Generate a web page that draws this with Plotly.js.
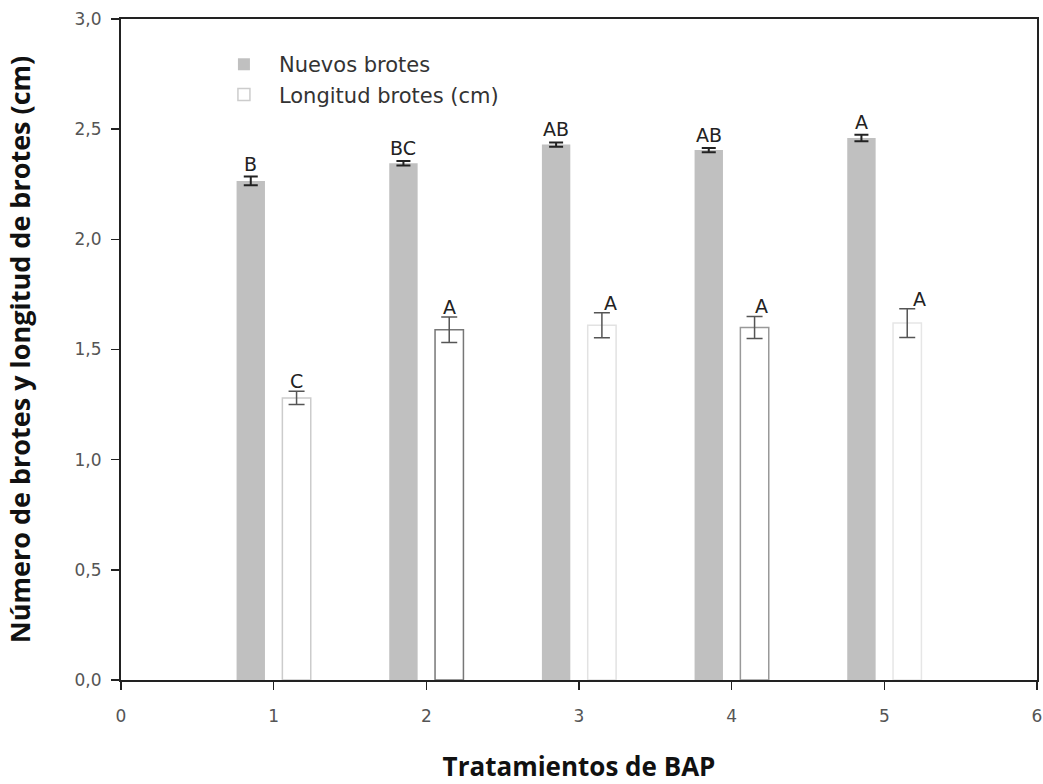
<!DOCTYPE html>
<html>
<head>
<meta charset="utf-8">
<script src="https://cdn.plot.ly/plotly-3.0.1.min.js"></script>
<style>html,body{margin:0;padding:0;background:#fff;}#chart{width:1043px;height:784px;}</style>
</head>
<body>
<div id="chart"></div>
<script>
// Data
const treatments = [1, 2, 3, 4, 5];
const nuevosBrotes = [2.265, 2.345, 2.43, 2.405, 2.46];
const nuevosErr = [0.02, 0.01, 0.01, 0.01, 0.015];
const longitudBrotes = [1.28, 1.59, 1.61, 1.60, 1.62];
const longitudErr = [0.03, 0.058, 0.057, 0.05, 0.065];
const nuevosLetters = ["B", "BC", "AB", "AB", "A"];
const longitudLetters = ["C", "A", "A", "A", "A"];
const seriesNames = ["Nuevos brotes", "Longitud brotes (cm)"];

const letterFont = {family: "DejaVu Sans, Open Sans, sans-serif", size: 19, color: "#222"};

const traces = [
  {
    type: "bar", name: seriesNames[0], x: treatments, y: nuevosBrotes,
    marker: {color: "#c0c0c0", line: {color: "#c0c0c0", width: 0}},
    error_y: {type: "data", array: nuevosErr, visible: true, color: "#222", thickness: 2, width: 7}
  },
  {
    type: "bar", name: seriesNames[1], x: treatments, y: longitudBrotes,
    marker: {color: "#ffffff", line: {color: ["#cccccc", "#777777", "#e2e2e2", "#999999", "#e6e6e6"], width: 1.5}},
    error_y: {type: "data", array: longitudErr, visible: true, color: "#555", thickness: 1.5, width: 8}
  }
];

const annotations = [];
const grayShift = [0, 0, 0, 0, 0];
const whiteShift = [0, 0, 9, 7, 12];
treatments.forEach((t, i) => {
  annotations.push({x: t - 0.15, y: nuevosBrotes[i] + nuevosErr[i], xref: "x", yref: "y",
    text: nuevosLetters[i], showarrow: false, yanchor: "bottom", xshift: grayShift[i], yshift: 0, font: letterFont});
  annotations.push({x: t + 0.15, y: longitudBrotes[i] + longitudErr[i], xref: "x", yref: "y",
    text: longitudLetters[i], showarrow: false, yanchor: "bottom", xshift: whiteShift[i], yshift: -3, font: letterFont});
});

const tickFont = {family: "DejaVu Sans, sans-serif", size: 17, color: "#555"};

const layout = {
  width: 1043, height: 784,
  margin: {l: 121, r: 6, t: 19, b: 104},
  paper_bgcolor: "#fff", plot_bgcolor: "#fff",
  separators: ",.",
  barmode: "group", bargap: 0.4, bargroupgap: 0.38,
  showlegend: true,
  legend: {x: 0.096, y: 0.962, xanchor: "left", yanchor: "top", bgcolor: "rgba(0,0,0,0)",
    font: {family: "DejaVu Sans, sans-serif", size: 21, color: "#333"},
    itemwidth: 60, tracegroupgap: 2},
  xaxis: {
    range: [0, 6], tickmode: "linear", tick0: 0, dtick: 1,
    ticks: "outside", ticklen: 8, tickwidth: 1.5, tickcolor: "#222",
    showline: true, linecolor: "#222", linewidth: 2, mirror: true,
    showgrid: false, zeroline: false, tickfont: tickFont, ticklabelstandoff: 12,
    title: {text: "Tratamientos de BAP", standoff: 34,
      font: {family: "Open Sans, sans-serif", size: 26, color: "#111", weight: "bold"}}
  },
  yaxis: {
    range: [0, 3], tickmode: "linear", tick0: 0, dtick: 0.5, tickformat: ".1f",
    ticks: "outside", ticklen: 8, tickwidth: 1.5, tickcolor: "#222",
    showline: true, linecolor: "#222", linewidth: 2, mirror: true,
    showgrid: false, zeroline: false, tickfont: tickFont, ticklabelstandoff: 6,
    title: {text: "Número de brotes y longitud de brotes (cm)", standoff: 36,
      font: {family: "Open Sans, sans-serif", size: 27, color: "#111", weight: "bold"}}
  },
  annotations: annotations
};

Plotly.newPlot("chart", traces, layout, {displayModeBar: false, staticPlot: true});
</script>
</body>
</html>
